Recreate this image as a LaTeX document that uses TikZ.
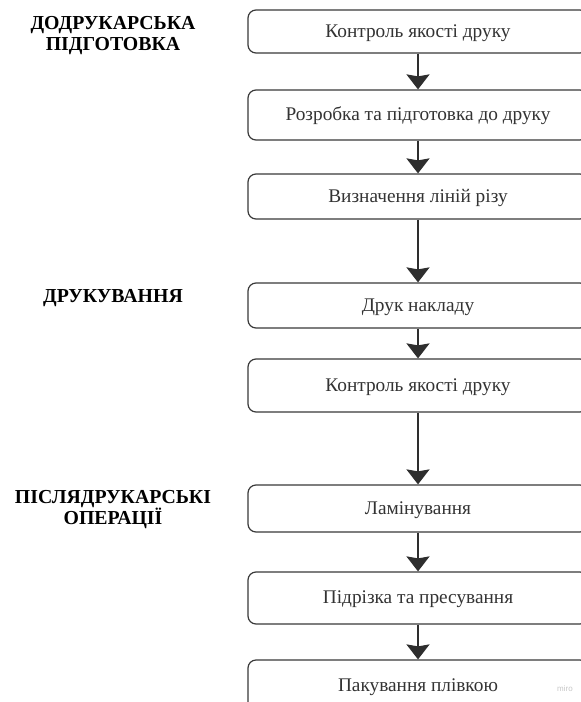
\documentclass[tikz,border=0pt]{standalone}
\usepackage{fontspec}
\setmainfont{Liberation Serif}
\setsansfont{Liberation Sans}
\usetikzlibrary{arrows.meta}
\definecolor{boxline}{HTML}{3A3A3A}
\definecolor{txt}{HTML}{333333}
\definecolor{arr}{HTML}{2E2E2E}
\tikzset{
  stepbox/.style={draw=boxline, line width=1.2pt, rounded corners=8pt, fill=white,
    minimum width=340pt, text=txt, font=\fontsize{19.3}{22}\selectfont, inner sep=0pt,
    text height=11.6pt, text depth=0pt},
  flow/.style={draw=arr, line width=2pt, -{Stealth[length=15pt,width=23pt,inset=2pt]}},
  phase/.style={font=\bfseries\fontsize{19.8}{21}\selectfont, align=center, text=black, inner sep=0pt}
}
\begin{document}
\begin{tikzpicture}[x=1pt,y=-1pt]
\clip (0,0) rectangle (581,702);
\fill[white] (0,0) rectangle (581,702);
\node[stepbox, minimum height=43pt] (b1) at (418,31.5) {Контроль якості друку};
\node[stepbox, minimum height=50pt] (b2) at (418,115) {Розробка та підготовка до друку};
\node[stepbox, minimum height=45pt] (b3) at (418,196.5) {Визначення ліній різу};
\node[stepbox, minimum height=45pt] (b4) at (418,305.5) {Друк накладу};
\node[stepbox, minimum height=53pt] (b5) at (418,385.5) {Контроль якості друку};
\node[stepbox, minimum height=47pt] (b6) at (418,508.5) {Ламінування};
\node[stepbox, minimum height=52pt] (b7) at (418,598) {Підрізка та пресування};
\node[stepbox, minimum height=52pt] (b8) at (418,686) {Пакування плівкою};
\draw[flow] (b1.south) -- (b2.north);
\draw[flow] (b2.south) -- (b3.north);
\draw[flow] (b3.south) -- (b4.north);
\draw[flow] (b4.south) -- (b5.north);
\draw[flow] (b5.south) -- (b6.north);
\draw[flow] (b6.south) -- (b7.north);
\draw[flow] (b7.south) -- (b8.north);
\node[phase] (p1) at (113,35.5) {ДОДРУКАРСЬКА\\ПІДГОТОВКА};
\node[phase] (p2) at (113,298) {ДРУКУВАННЯ};
\node[phase] (p3) at (113,510) {ПІСЛЯДРУКАРСЬКІ\\ОПЕРАЦІЇ};
\node[font=\sffamily\fontsize{8}{9}\selectfont, text=black!22] (w) at (565,689) {miro};
\end{tikzpicture}
\end{document}
